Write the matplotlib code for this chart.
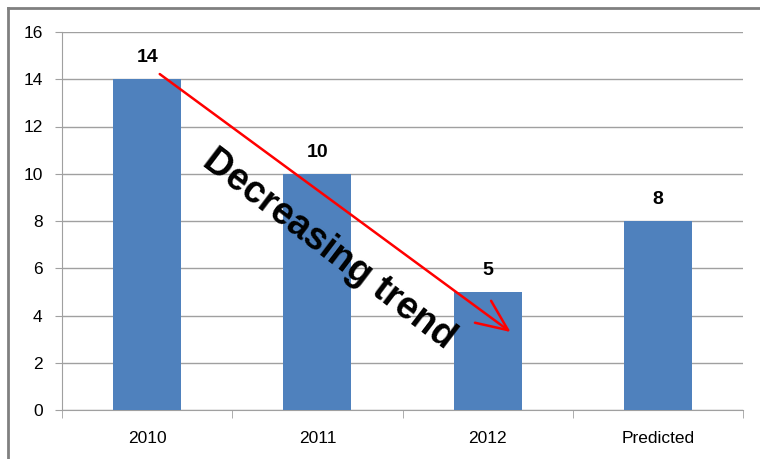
import matplotlib.pyplot as plt
from matplotlib.lines import Line2D

categories = ['2010', '2011', '2012', 'Predicted']
values = [14, 10, 5, 8]
yticks = [0, 2, 4, 6, 8, 10, 12, 14, 16]

plt.rcParams['font.family'] = ['Liberation Sans', 'DejaVu Sans']

fig = plt.figure(figsize=(7.6, 4.59), dpi=100)
ax = fig.add_axes([62 / 760, 1 - 410 / 459, (743 - 62) / 760, (410 - 32) / 459])

x = range(len(categories))
ax.bar(x, values, width=0.4, color='#4f81bd', zorder=3)

# value labels above each bar
for i, v in zip(x, values):
    ax.text(i, v + 0.55, str(v), ha='center', va='bottom',
            fontsize=14, fontweight='bold', color='black')

ax.set_xlim(-0.5, len(categories) - 0.5)
ax.set_ylim(0, 16)
ax.set_yticks(yticks)
ax.set_xticks(list(x))
ax.set_xticklabels(categories)
ax.grid(axis='y', color='#a0a0a0', linewidth=1, zorder=0)

for side in ['top', 'right']:
    ax.spines[side].set_visible(False)
for side in ['left', 'bottom']:
    ax.spines[side].set_color('#a0a0a0')

# category separators on the x axis
ax.set_xticks([i - 0.5 for i in range(len(categories) + 1)], minor=True)
ax.tick_params(axis='x', which='minor', length=6, color='#a0a0a0', direction='out')
ax.tick_params(axis='x', which='major', length=0, pad=15, labelsize=12.5)
ax.tick_params(axis='y', length=5, color='#a0a0a0', pad=9, labelsize=12.5)

# trend arrow with annotation text
ax.annotate('', xy=(2.135, 3.3), xytext=(0.074, 14.22),
            arrowprops=dict(arrowstyle='->,head_length=0.8,head_width=0.35',
                            color='red', lw=1.8, mutation_scale=28,
                            shrinkA=0, shrinkB=0),
            zorder=5)
ax.text(1.07, 6.8, 'Decreasing trend', rotation=-37.2, rotation_mode='anchor',
        ha='center', va='center', fontsize=27, fontweight='bold', zorder=6)

# outer frame
fig.add_artist(Line2D([8 / 760, 1], [1 - 8 / 459, 1 - 8 / 459],
                      transform=fig.transFigure, color='#808080', lw=2))
fig.add_artist(Line2D([8 / 760, 8 / 760], [0, 1 - 8 / 459],
                      transform=fig.transFigure, color='#808080', lw=2))

fig.savefig('out.png', dpi=100)
